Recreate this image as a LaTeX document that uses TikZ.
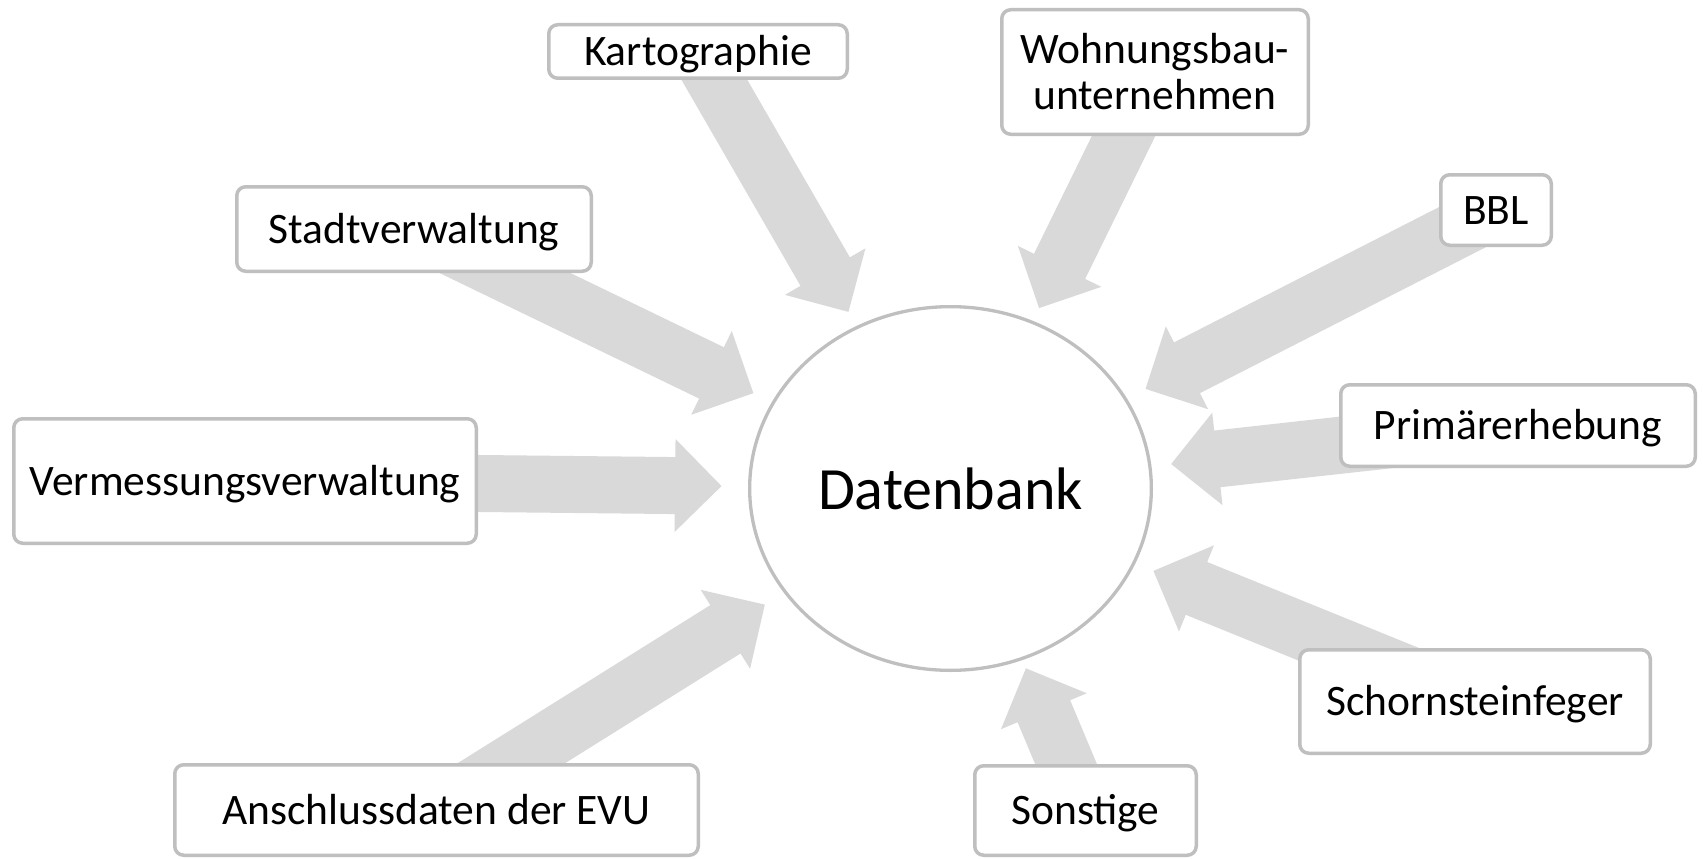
\documentclass[tikz,border=0pt]{standalone}
\usepackage{fontspec}
\setmainfont{Carlito}
\usetikzlibrary{calc,shapes.geometric,backgrounds}
\definecolor{arrowgray}{HTML}{D9D9D9}
\definecolor{bordergray}{HTML}{BFBFBF}
\tikzset{
  srcbox/.style={draw=bordergray, line width=3.5pt, rounded corners=9pt, fill=white,
    inner sep=0pt, font=\fontsize{43.5}{46}\selectfont, align=center,
    text height=28pt, text depth=0pt},
  twolinebox/.style={srcbox, text height={}, text depth={}},
  dbnode/.style={ellipse, draw=bordergray, line width=3.3pt, fill=white, inner sep=0pt,
    font=\fontsize{60}{72}\selectfont},
  flowarrow/.style={fill=arrowgray},
}
\newcommand\blockarrow[2]{%
  \coordinate (hb) at ($(#2)!46.5pt!(#1.center)$);
  \fill[flowarrow] ($(#1.center)!28.5pt!90:(#2)$)
    -- ($(hb)!28.5pt!-90:(#1.center)$)
    -- ($(hb)!46.5pt!-90:(#1.center)$)
    -- (#2)
    -- ($(hb)!46.5pt!90:(#1.center)$)
    -- ($(hb)!28.5pt!90:(#1.center)$)
    -- ($(#1.center)!28.5pt!-90:(#2)$) -- cycle;
}
\begin{document}
\begin{tikzpicture}[x=1pt,y=-1pt]
\useasboundingbox (0,0) rectangle (1703,859);

\node[dbnode, minimum width=401.7pt, minimum height=363.7pt] (db) at (950.5,488.5) {Datenbank};

\node[srcbox, minimum width=298.5pt, minimum height=53.5pt] (kart) at (698,51.5) {Kartographie};
\node[twolinebox, minimum width=306.5pt, minimum height=124.5pt] (wohn) at (1155,72) {Wohnungsbau-\\unternehmen};
\node[srcbox, minimum width=110.5pt, minimum height=70.5pt] (bbl) at (1496,210) {BBL};
\node[srcbox, minimum width=354.5pt, minimum height=84.5pt] (stadt) at (414,229) {Stadtverwaltung};
\node[srcbox, minimum width=354.5pt, minimum height=81.5pt] (prim) at (1518,425.5) {Primärerhebung};
\node[srcbox, minimum width=462.5pt, minimum height=124.5pt] (verm) at (245,481) {Vermessungsverwaltung};
\node[srcbox, minimum width=523.5pt, minimum height=90.5pt] (ansch) at (436.5,810) {Anschlussdaten der EVU};
\node[srcbox, minimum width=221.5pt, minimum height=89.5pt] (sonst) at (1085.5,810.5) {Sonstige};
\node[srcbox, minimum width=350.5pt, minimum height=103.5pt] (schorn) at (1475,701.5) {Schornsteinfeger};

\coordinate (tkart) at ($(db.center)!204pt!(kart.center)$);
\coordinate (twohn) at ($(db.center)!201pt!(wohn.center)$);
\coordinate (tbbl) at ($(db.center)!219pt!(bbl.center)$);
\coordinate (tstadt) at ($(db.center)!219pt!(stadt.center)$);
\coordinate (tprim) at ($(db.center)!222pt!(prim.center)$);
\coordinate (tverm) at ($(db.center)!229pt!(verm.center)$);
\coordinate (tansch) at ($(db.center)!219pt!(ansch.center)$);
\coordinate (tsonst) at ($(db.center)!195pt!(sonst.center)$);
\coordinate (tschorn) at ($(db.center)!219pt!(schorn.center)$);

\begin{scope}[on background layer]
  \fill[white] (0,0) rectangle (1703,859);
  \blockarrow{kart}{tkart}
  \blockarrow{wohn}{twohn}
  \blockarrow{bbl}{tbbl}
  \blockarrow{stadt}{tstadt}
  \blockarrow{prim}{tprim}
  \blockarrow{verm}{tverm}
  \blockarrow{ansch}{tansch}
  \blockarrow{sonst}{tsonst}
  \blockarrow{schorn}{tschorn}
\end{scope}
\end{tikzpicture}
\end{document}
